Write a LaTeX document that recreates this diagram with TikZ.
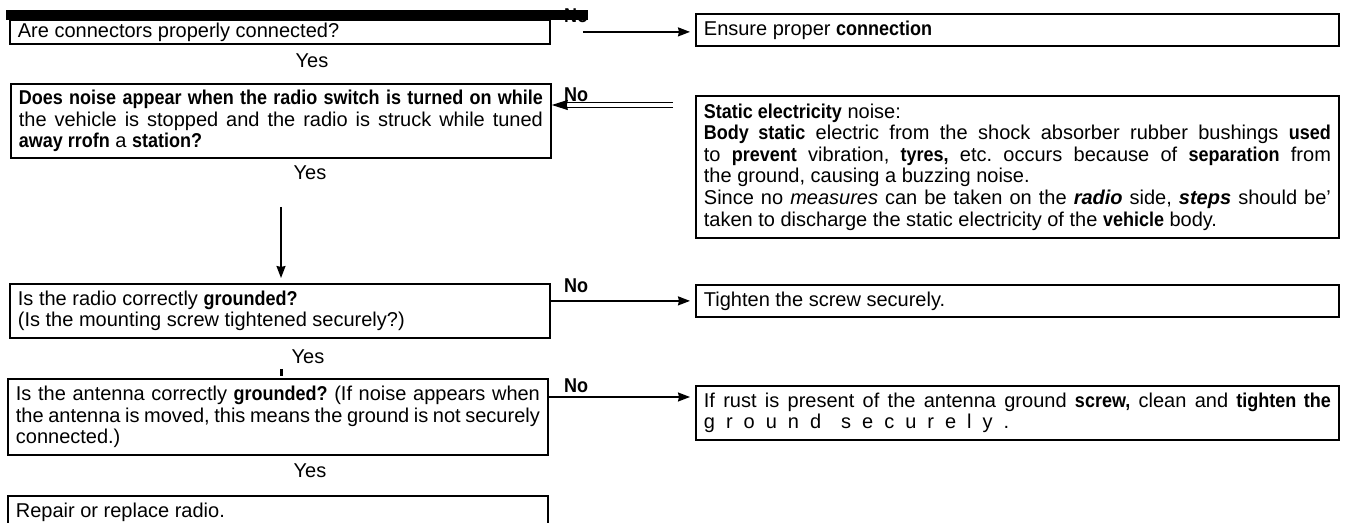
\documentclass[tikz,border=0pt]{standalone}
\usepackage{fontspec}
\setmainfont{Liberation Sans}[BoldFeatures={FakeStretch=0.9}]
\usepackage{tikz}
\usetikzlibrary{
  arrows.meta,
  positioning,
  calc
}
\frenchspacing

\begin{document}
\begin{tikzpicture}[
  x=0.5pt, y=-0.5pt,
  every node/.style={font=\fontsize{10}{10.8}\selectfont},
  qbox/.style={rectangle, draw, line width=0.9pt, anchor=north west,
    inner xsep=4pt, inner ysep=0pt, text width=262pt, align=justify},
  abox/.style={qbox, text width=313.5pt},
  lbl/.style={inner sep=0pt},
  nolbl/.style={inner sep=0pt, font=\fontsize{10}{10.8}\selectfont\bfseries},
  arr/.style={-{Stealth[length=6pt, width=4.5pt, inset=0.5pt]}, line width=0.75pt,
    shorten >=2.5pt},
  dblarr/.style={-{Stealth[length=8pt, width=5pt, inset=0.5pt]}, double,
    double distance=2pt, line width=0.6pt}
]
  \useasboundingbox (0,0) rectangle (1348,523);

  % left column
  \node[qbox, minimum height=12pt] (conn) at (9,19) {Are connectors properly connected?};
  \node[qbox, minimum height=37pt] (noise) at (10,83)
    {\textbf{Does noise appear when the radio switch is turned on while}\linebreak
     the vehicle is stopped and the radio is struck while tuned\linebreak
     \textbf{away rrofn} a \textbf{station?}};
  \node[qbox, minimum height=27pt] (radio) at (9,283)
    {Is the radio correctly \textbf{grounded?}\\
     (Is the mounting screw tightened securely?)};
  \node[qbox, minimum height=38pt] (antenna) at (7,378)
    {Is the antenna correctly \textbf{grounded?} (If noise appears when\linebreak
     the antenna is moved, this means the ground is not securely\linebreak
     connected.)};
  \node[qbox, minimum height=16pt] (repair) at (7,495) {Repair or replace radio.};

  % right column
  \node[abox, minimum height=16pt] (ensure) at (695,13) {Ensure proper \textbf{connection}};
  \node[abox, minimum height=71pt] (static) at (695,95)
    {\textbf{Static electricity} noise:\\
     \textbf{Body static} electric from the shock absorber rubber bushings \textbf{used}\linebreak
     to \textbf{prevent} vibration, \textbf{tyres,} etc. occurs because of \textbf{separation} from\linebreak
     the ground, causing a buzzing noise.\\
     Since no \textit{measures} can be taken on the \textbf{\textit{radio}} side, \textbf{\textit{steps}} should be'\linebreak
     taken to discharge the static electricity of the \textbf{vehicle} body.};
  \node[abox, minimum height=27pt] (rust) at (695,385)
    {If rust is present of the antenna ground \textbf{screw,} clean and \textbf{tighten the}\linebreak
     {\spaceskip=0.55em g r o u n d\quad s e c u r e l y .}};
  \node[abox, minimum height=16pt] (tighten) at (695,284) {Tighten the screw securely.};

  % labels
  \foreach \n/\x/\y in {yesa/312/61, yesb/310/173, yesc/308/357, yesd/310/471}
    \node[lbl] (\n) at (\x,\y) {Yes};
  \foreach \n/\y in {noa/16, nob/95, noc/286, nod/386}
    \node[nolbl] (\n) at (576,\y) {No};
  \fill (6,10) rectangle (588,20);

  % connectors
  \coordinate (vstart) at (281,207);
  \coordinate (dblend) at (673,105);
  \coordinate (rustin) at ($(rust.north west)+(0,12)$);
  \draw[arr, shorten <=16pt] (conn.east) -- (conn.east -| ensure.west);
  \draw[dblarr] (dblend) -- (dblend -| noise.east);
  \draw[arr] (vstart) -- (vstart |- radio.north);
  \draw[arr] (radio.east |- tighten.west) -- (tighten.west);
  \draw[arr] (antenna.east |- rustin) -- (rustin);
  \draw[line width=1.5pt] (281,369) -- (281,376);
\end{tikzpicture}
\end{document}
